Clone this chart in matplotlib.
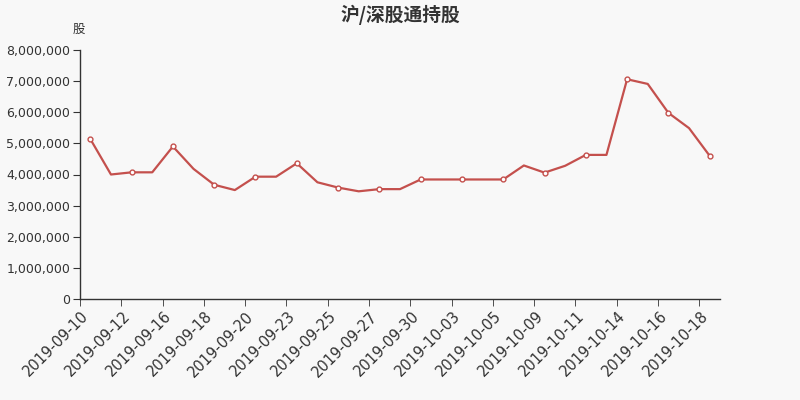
import matplotlib
matplotlib.use("Agg")
import matplotlib.pyplot as plt
from matplotlib.ticker import FuncFormatter

plt.rcParams['font.family'] = ['DejaVu Sans', 'Noto Sans CJK SC']

dates = ['2019-09-10', '2019-09-11', '2019-09-12', '2019-09-13', '2019-09-16',
         '2019-09-17', '2019-09-18', '2019-09-19', '2019-09-20', '2019-09-22',
         '2019-09-23', '2019-09-24', '2019-09-25', '2019-09-26', '2019-09-27',
         '2019-09-29', '2019-09-30', '2019-10-02', '2019-10-03', '2019-10-04',
         '2019-10-05', '2019-10-08', '2019-10-09', '2019-10-10', '2019-10-11',
         '2019-10-12', '2019-10-14', '2019-10-15', '2019-10-16', '2019-10-17',
         '2019-10-18']
holdings = [5140000, 4000000, 4070000, 4070000, 4900000,
            4180000, 3670000, 3500000, 3930000, 3930000,
            4360000, 3750000, 3580000, 3460000, 3530000,
            3530000, 3840000, 3840000, 3840000, 3840000,
            3840000, 4290000, 4060000, 4280000, 4630000,
            4630000, 7060000, 6910000, 5980000, 5490000,
            4600000]

title = '沪/深股通持股'
unit = '股'

bg = '#f8f8f8'
red = '#c4504d'
axis_col = '#333333'

fig = plt.figure(figsize=(8, 4), dpi=100, facecolor=bg)
ax = fig.add_axes([0.1, 0.2525, 0.8, 0.6225], facecolor=bg)

x = list(range(len(dates)))
ax.plot(x, holdings, color=red, lw=1.6, marker='o', markersize=3.5,
        markerfacecolor='white', markeredgecolor=red, markeredgewidth=1,
        markevery=2, zorder=3)

ax.set_xlim(-0.5, len(dates) - 0.5)
ax.set_ylim(0, 8000000)
ax.set_yticks(range(0, 8000001, 1000000))
ax.yaxis.set_major_formatter(FuncFormatter(lambda v, p: f'{int(v):,}'))

# labels near category centres (nudged so the rotated text ends at the point),
# tick marks at category boundaries
ax.set_xticks([i - 0.45 for i in x[::2]])
ax.set_xticklabels(dates[::2], rotation=45, ha='right', rotation_mode='anchor',
                   fontsize=10.5, color=axis_col)
ax.tick_params(axis='x', which='major', length=0, pad=7)
ax.set_xticks([i - 0.5 for i in x[::2]], minor=True)
ax.tick_params(axis='x', which='minor', length=5, color=axis_col)
ax.tick_params(axis='y', length=5, color=axis_col, labelsize=9, labelcolor=axis_col, pad=2)

for s in ['top', 'right']:
    ax.spines[s].set_visible(False)
for s in ['left', 'bottom']:
    ax.spines[s].set_color(axis_col)
    ax.spines[s].set_linewidth(1)

fig.text(0.5, 0.962, title, ha='center', va='center', fontsize=13.5, fontweight='bold',
         color=axis_col, family=['Noto Sans CJK SC', 'DejaVu Sans'])
fig.text(0.099, 0.927, unit, ha='center', va='center', fontsize=9,
         color=axis_col, family=['Noto Sans CJK SC', 'DejaVu Sans'])

fig.savefig('out.png', dpi=100, facecolor=bg)
